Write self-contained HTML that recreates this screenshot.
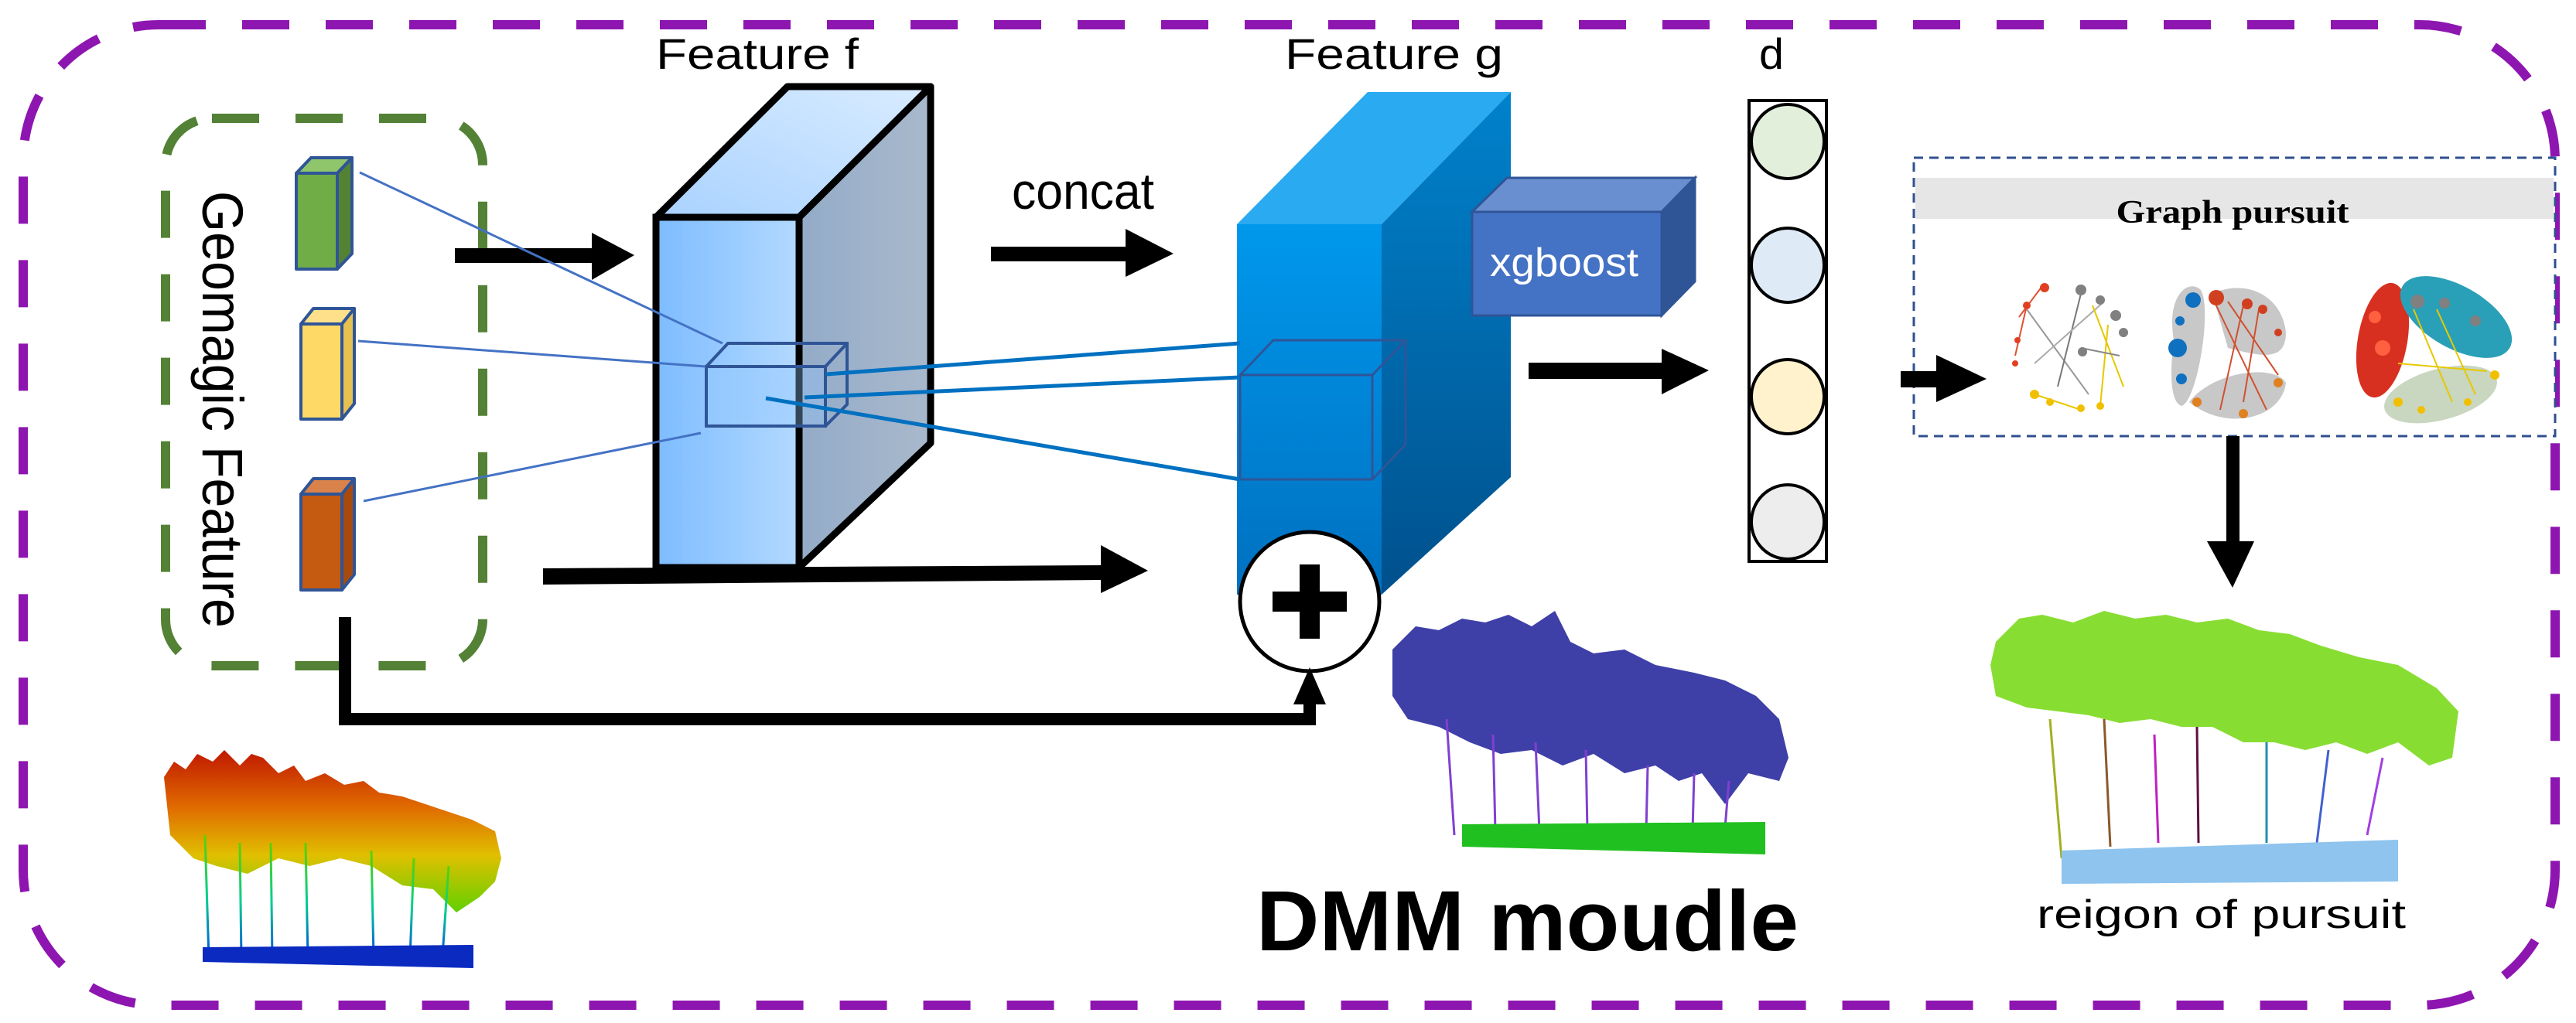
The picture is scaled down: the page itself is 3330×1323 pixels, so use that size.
<!DOCTYPE html>
<html><head><meta charset="utf-8"><style>
html,body{margin:0;padding:0;background:#fff;}
svg{display:block;}
text{font-family:"Liberation Sans",sans-serif;}
</style></head><body>
<svg width="3330" height="1323" viewBox="0 0 3330 1323" xmlns="http://www.w3.org/2000/svg">
<defs>
<linearGradient id="ff" x1="0" x2="1" y1="0" y2="0"><stop offset="0" stop-color="#7dbcff"/><stop offset="1" stop-color="#b3d9ff"/></linearGradient>
<linearGradient id="ft" x1="0" x2="1" y1="1" y2="0"><stop offset="0" stop-color="#a9d2ff"/><stop offset="1" stop-color="#d9ecff"/></linearGradient>
<linearGradient id="fs" x1="0" x2="1" y1="0" y2="0"><stop offset="0" stop-color="#93abc8"/><stop offset="1" stop-color="#a9b9cc"/></linearGradient>
<linearGradient id="gf" x1="0" x2="0" y1="0" y2="1"><stop offset="0" stop-color="#0098ec"/><stop offset="1" stop-color="#0070c0"/></linearGradient>
<linearGradient id="gs" x1="0" x2="0" y1="0" y2="1"><stop offset="0" stop-color="#0082cc"/><stop offset="1" stop-color="#00508c"/></linearGradient>
<linearGradient id="lc" x1="0" x2="0" y1="0" y2="1"><stop offset="0" stop-color="#c01800"/><stop offset="0.35" stop-color="#e06a00"/><stop offset="0.65" stop-color="#e0c000"/><stop offset="1" stop-color="#60d000"/></linearGradient>
<linearGradient id="lt" x1="0" x2="0" y1="0" y2="1"><stop offset="0" stop-color="#60d000"/><stop offset="0.5" stop-color="#00d090"/><stop offset="1" stop-color="#0050e0"/></linearGradient>
</defs>

<!-- purple outer border -->
<rect x="30" y="32" width="3273" height="1268" rx="175" ry="175" fill="none" stroke="#8e16b0" stroke-width="12" stroke-dasharray="61 47"/>

<!-- green box -->
<rect x="214" y="153" width="410" height="708" rx="60" ry="60" fill="none" stroke="#538135" stroke-width="12" stroke-dasharray="61 47"/>
<text transform="translate(262,247) rotate(90)" x="0" y="0" font-size="74" textLength="565" lengthAdjust="spacingAndGlyphs" fill="#000">Geomagic Feature</text>

<!-- cuboids -->
<g stroke="#2f5597" stroke-width="4" stroke-linejoin="round">
<polygon points="383,224 402,204 455,204 436,224" fill="#8fc56b"/>
<polygon points="436,224 455,204 455,328 436,348" fill="#548235"/>
<rect x="383" y="224" width="53" height="124" fill="#70ad47"/>
<polygon points="389,419 405,399 458,399 442,419" fill="#ffe08a"/>
<polygon points="442,419 458,399 458,522 442,542" fill="#e6c050"/>
<rect x="389" y="419" width="53" height="123" fill="#ffd966"/>
<polygon points="389,639 405,619 458,619 442,639" fill="#d9824a"/>
<polygon points="442,639 458,619 458,743 442,763" fill="#a84a0e"/>
<rect x="389" y="639" width="53" height="124" fill="#c55a11"/>
</g>

<!-- arrow 1 -->
<rect x="588" y="321" width="180" height="19" fill="#000"/>
<polygon points="765,301 820,330 765,362" fill="#000"/>

<!-- long arrow -->
<polygon points="702,735 1425,731 1425,750 702,756" fill="#000"/>
<polygon points="1423,705 1484,738 1423,767" fill="#000"/>

<!-- Feature f box -->
<polygon points="848,281 1018,112 1203,112 1033,281" fill="url(#ft)" stroke="#000" stroke-width="9" stroke-linejoin="round"/>
<polygon points="1033,281 1203,112 1203,573 1033,734" fill="url(#fs)" stroke="#000" stroke-width="9" stroke-linejoin="round"/>
<rect x="848" y="281" width="185" height="453" fill="url(#ff)" stroke="#000" stroke-width="9"/>
<text x="848" y="89" font-size="56" textLength="262" lengthAdjust="spacingAndGlyphs">Feature  f</text>

<!-- small cube in f -->
<g fill="none" stroke="#2f5597" stroke-width="4">
<rect x="913" y="474" width="154" height="77" fill="rgba(150,200,255,0.35)"/>
<polyline points="913,474 941,444 1095,444 1095,523 1067,551"/>
<line x1="1067" y1="474" x2="1095" y2="444"/>
</g>
<g stroke="#4472c4" stroke-width="3">
<line x1="465" y1="223" x2="934" y2="444"/>
<line x1="463" y1="441" x2="912" y2="474"/>
<line x1="470" y1="648" x2="906" y2="560"/>
</g>

<!-- concat -->
<text x="1308" y="270" font-size="66" textLength="184" lengthAdjust="spacingAndGlyphs">concat</text>
<rect x="1281" y="319" width="176" height="19" fill="#000"/>
<polygon points="1455,296 1517,328 1455,358" fill="#000"/>

<!-- Feature g -->
<polygon points="1599,290 1768,119 1953,119 1786,290" fill="#2aaaf0"/>
<polygon points="1786,290 1953,119 1953,617 1786,769" fill="url(#gs)"/>
<rect x="1599" y="290" width="187" height="479" fill="url(#gf)"/>
<text x="1661" y="89" font-size="56" textLength="282" lengthAdjust="spacingAndGlyphs">Feature  g</text>
<g fill="none" stroke="#2f5597" stroke-width="3">
<rect x="1603" y="485" width="171" height="135"/>
<polyline points="1603,485 1646,440 1817,440 1817,575 1774,620"/>
<line x1="1774" y1="485" x2="1817" y2="440"/>
</g>
<g stroke="#0070c0" stroke-width="5">
<line x1="1068" y1="484" x2="1603" y2="444"/>
<line x1="1040" y1="514" x2="1603" y2="488"/>
<line x1="990" y1="515" x2="1603" y2="620"/>
</g>

<!-- xgboost -->
<polygon points="1903,274 1948,230 2191,230 2148,274" fill="#6a8fd0" stroke="#2f5597" stroke-width="3"/>
<polygon points="2148,274 2191,230 2191,364 2148,408" fill="#2f5597" stroke="#2f5597" stroke-width="3"/>
<rect x="1903" y="274" width="245" height="134" fill="#4472c4" stroke="#2f5597" stroke-width="3"/>
<text x="1926" y="357" font-size="52" fill="#fff" textLength="192" lengthAdjust="spacingAndGlyphs">xgboost</text>

<!-- plus circle -->
<circle cx="1693" cy="778" r="90" fill="#fff" stroke="#000" stroke-width="5"/>
<rect x="1680" y="730" width="26" height="96" fill="#000"/>
<rect x="1645" y="765" width="96" height="26" fill="#000"/>

<!-- bottom connector -->
<rect x="438" y="798" width="16" height="140" fill="#000"/>
<rect x="438" y="922" width="1263" height="16" fill="#000"/>
<rect x="1685" y="905" width="16" height="33" fill="#000"/>
<polygon points="1672,911 1693,863 1714,911" fill="#000"/>

<!-- d column -->
<text x="2274" y="89" font-size="56" textLength="32" lengthAdjust="spacingAndGlyphs">d</text>
<rect x="2261" y="130" width="100" height="596" fill="#fff" stroke="#000" stroke-width="4"/>
<g stroke="#000" stroke-width="4">
<ellipse cx="2311" cy="183" rx="47" ry="48" fill="#e2efda"/>
<ellipse cx="2311" cy="343" rx="47" ry="48" fill="#deebf7"/>
<ellipse cx="2311" cy="513" rx="47" ry="48" fill="#fff2cc"/>
<ellipse cx="2311" cy="675" rx="47" ry="48" fill="#ededed"/>
</g>
<rect x="1976" y="469" width="174" height="21" fill="#000"/>
<polygon points="2148,451 2209,479 2148,510" fill="#000"/>

<!-- graph pursuit -->
<rect x="2474" y="204" width="829" height="360" fill="#fff" stroke="#2f4f8f" stroke-width="3" stroke-dasharray="12 8"/>
<rect x="2476" y="230" width="825" height="53" fill="#e6e6e6"/>
<text x="2886" y="288" font-family="Liberation Serif" font-weight="bold" font-size="42" text-anchor="middle" textLength="301" lengthAdjust="spacingAndGlyphs" style="font-family:'Liberation Serif',serif">Graph pursuit</text>
<rect x="2457" y="480" width="48" height="21" fill="#000"/>
<polygon points="2503,459 2568,490 2503,520" fill="#000"/>

<!-- graph 1 -->
<g>
<g stroke-width="2" fill="none">
<line x1="2620" y1="400" x2="2700" y2="510" stroke="#999"/>
<line x1="2690" y1="380" x2="2660" y2="500" stroke="#777"/>
<line x1="2720" y1="390" x2="2630" y2="470" stroke="#aaa"/>
<line x1="2705" y1="395" x2="2745" y2="500" stroke="#e6c800"/>
<line x1="2725" y1="420" x2="2715" y2="525" stroke="#e6c800"/>
<line x1="2610" y1="410" x2="2640" y2="370" stroke="#e05030"/>
<line x1="2605" y1="460" x2="2620" y2="395" stroke="#e05030"/>
<line x1="2630" y1="510" x2="2690" y2="530" stroke="#e6c800"/>
<line x1="2690" y1="450" x2="2740" y2="460" stroke="#888"/>
</g>
<g fill="#e04020"><circle cx="2643" cy="372" r="6"/><circle cx="2620" cy="395" r="5"/><circle cx="2608" cy="440" r="4"/><circle cx="2605" cy="470" r="4"/></g>
<g fill="#808080"><circle cx="2690" cy="375" r="7"/><circle cx="2715" cy="388" r="6"/><circle cx="2735" cy="408" r="7"/><circle cx="2745" cy="430" r="6"/><circle cx="2692" cy="455" r="6"/></g>
<g fill="#f0c000"><circle cx="2630" cy="510" r="6"/><circle cx="2650" cy="520" r="5"/><circle cx="2690" cy="528" r="5"/><circle cx="2715" cy="525" r="5"/></g>
</g>
<!-- graph 2 -->
<g>
<path d="M2810,440 C2800,380 2830,360 2845,375 C2860,400 2840,520 2820,525 C2805,520 2805,480 2810,440 Z" fill="#c8c8c8"/>
<path d="M2860,380 C2900,360 2950,380 2955,430 C2955,470 2920,460 2880,450 Z" fill="#c8c8c8"/>
<path d="M2830,520 C2860,480 2940,470 2955,495 C2950,540 2880,560 2830,520 Z" fill="#c8c8c8"/>
<g stroke="#d05030" stroke-width="2"><line x1="2860" y1="385" x2="2930" y2="530"/><line x1="2900" y1="395" x2="2870" y2="530"/><line x1="2920" y1="400" x2="2900" y2="520"/><line x1="2880" y1="390" x2="2945" y2="485"/></g>
<g fill="#1070c0"><circle cx="2835" cy="388" r="10"/><circle cx="2818" cy="415" r="6"/><circle cx="2815" cy="450" r="12"/><circle cx="2820" cy="490" r="7"/></g>
<g fill="#d04020"><circle cx="2865" cy="385" r="10"/><circle cx="2905" cy="393" r="7"/><circle cx="2925" cy="400" r="6"/><circle cx="2945" cy="430" r="5"/></g>
<g fill="#e08020"><circle cx="2840" cy="520" r="6"/><circle cx="2900" cy="535" r="6"/><circle cx="2945" cy="495" r="6"/></g>
</g>
<!-- graph 3 -->
<g>
<ellipse cx="3080" cy="440" rx="32" ry="75" fill="#d83020" transform="rotate(10 3080 440)"/>
<ellipse cx="3175" cy="410" rx="80" ry="40" fill="#2aa0b8" transform="rotate(30 3175 410)"/>
<ellipse cx="3155" cy="510" rx="75" ry="33" fill="#c9d6c0" transform="rotate(-15 3155 510)"/>
<g stroke="#e6c800" stroke-width="2"><line x1="3120" y1="400" x2="3170" y2="520"/><line x1="3150" y1="400" x2="3200" y2="510"/><line x1="3100" y1="470" x2="3215" y2="480"/></g>
<g fill="#808080"><circle cx="3125" cy="390" r="9"/><circle cx="3160" cy="392" r="7"/><circle cx="3200" cy="415" r="7"/></g>
<g fill="#ff6040"><circle cx="3070" cy="410" r="8"/><circle cx="3080" cy="450" r="10"/></g>
<g fill="#f0c000"><circle cx="3100" cy="520" r="6"/><circle cx="3130" cy="530" r="5"/><circle cx="3190" cy="520" r="5"/><circle cx="3225" cy="485" r="6"/></g>
</g>

<!-- down arrow -->
<rect x="2878" y="564" width="17" height="140" fill="#000"/>
<polygon points="2853,700 2886,760 2914,700" fill="#000"/>

<!-- left trees -->
<g>
<polygon points="212,1005 225,985 240,995 255,975 275,985 290,970 310,990 325,975 340,980 360,1000 380,990 395,1010 420,1000 445,1015 470,1010 490,1025 520,1030 550,1040 580,1050 610,1060 640,1075 648,1110 640,1140 620,1160 590,1180 560,1150 520,1145 480,1120 440,1110 400,1120 360,1110 320,1130 280,1120 250,1110 220,1080" fill="url(#lc)"/>
<g stroke="url(#lt)" stroke-width="3">
<line x1="265" y1="1080" x2="270" y2="1240"/><line x1="310" y1="1090" x2="312" y2="1240"/><line x1="350" y1="1090" x2="352" y2="1240"/><line x1="395" y1="1090" x2="398" y2="1238"/><line x1="480" y1="1100" x2="483" y2="1238"/><line x1="535" y1="1110" x2="530" y2="1238"/><line x1="580" y1="1120" x2="572" y2="1236"/>
</g>
<polygon points="262,1225 612,1222 612,1252 262,1244" fill="#0a2ac0"/>
</g>

<!-- middle trees -->
<g>
<polygon points="1800,840 1830,810 1860,815 1890,800 1920,805 1950,795 1980,810 2010,790 2030,830 2060,845 2100,840 2140,860 2190,870 2230,880 2270,900 2300,930 2312,980 2300,1010 2260,1000 2230,1040 2200,1000 2170,1010 2140,990 2100,1000 2060,975 2020,990 1980,970 1940,975 1900,960 1860,940 1820,930 1800,900" fill="#3f3fa8"/>
<g stroke="#8040d0" stroke-width="3">
<line x1="1870" y1="930" x2="1880" y2="1080"/><line x1="1930" y1="950" x2="1933" y2="1075"/><line x1="1985" y1="960" x2="1990" y2="1075"/><line x1="2050" y1="970" x2="2052" y2="1075"/><line x1="2130" y1="990" x2="2128" y2="1075"/><line x1="2190" y1="1000" x2="2188" y2="1075"/><line x1="2235" y1="1010" x2="2230" y2="1070"/>
</g>
<polygon points="1890,1066 2282,1063 2282,1105 1890,1095" fill="#20c020"/>
</g>

<!-- right trees -->
<g>
<polygon points="2580,830 2610,800 2640,795 2680,805 2720,790 2760,800 2800,795 2840,805 2880,800 2920,815 2960,820 3000,835 3050,850 3100,860 3150,890 3178,920 3170,980 3140,990 3100,960 3060,975 3020,960 2980,970 2940,960 2900,960 2860,940 2820,940 2780,930 2740,935 2700,925 2660,920 2620,915 2580,900 2573,860" fill="#88dd33"/>
<g stroke-width="3">
<line x1="2650" y1="930" x2="2665" y2="1110" stroke="#a0b020"/><line x1="2720" y1="930" x2="2728" y2="1095" stroke="#8b5a2b"/><line x1="2785" y1="950" x2="2790" y2="1090" stroke="#c020c0"/><line x1="2840" y1="940" x2="2842" y2="1090" stroke="#601040"/><line x1="2930" y1="960" x2="2930" y2="1090" stroke="#2090b0"/><line x1="3010" y1="970" x2="2995" y2="1090" stroke="#4060d0"/><line x1="3080" y1="980" x2="3060" y2="1080" stroke="#a040e0"/>
</g>
<polygon points="2665,1100 3100,1086 3100,1140 2665,1143" fill="#8ec4ee"/>
</g>

<!-- labels -->
<text x="1624" y="1229" font-size="110" font-weight="bold" textLength="701" lengthAdjust="spacingAndGlyphs">DMM moudle</text>
<text x="2633" y="1200" font-size="52" textLength="477" lengthAdjust="spacingAndGlyphs">reigon of pursuit</text>
</svg>
</body></html>
